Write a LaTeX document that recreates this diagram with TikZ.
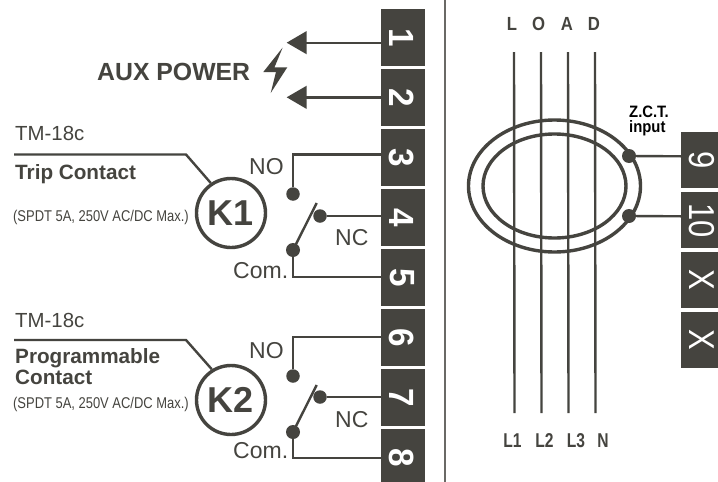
\documentclass[tikz,border=0pt]{standalone}
\usepackage{fontspec}
\setmainfont{Liberation Sans}
\definecolor{ink}{HTML}{45443F}
\tikzset{
 wire/.style={draw=ink,line width=2.4pt},
 ring/.style={draw=ink,line width=3.4pt},
 termnum/.style={text=white,font=\bfseries\fontsize{35}{35}\selectfont,rotate=-90,xscale=.95,inner sep=0pt},
 rnum/.style={text=white,font=\fontsize{36}{36}\selectfont,rotate=-90,xscale=.86,inner sep=0pt},
 dot/.style={circle,fill=ink,inner sep=0pt,minimum size=13.5pt},
 sdot/.style={circle,fill=ink,inner sep=0pt,minimum size=14pt},
 lbl/.style={text=ink,inner sep=0pt},
 relay/.style={circle,draw=ink,line width=3.4pt,minimum size=69pt,inner sep=0pt,font=\bfseries\fontsize{36}{36}\selectfont,text=ink},
 arrowtip/.style={fill=ink,draw=none},
 thinlbl/.style={lbl,font=\fontsize{23}{23}\selectfont,anchor=base west},
 tmlbl/.style={lbl,font=\fontsize{20.4}{20.4}\selectfont,anchor=base west},
 boldlbl/.style={lbl,font=\bfseries\fontsize{20.7}{20.7}\selectfont,anchor=base west},
 spec/.style={lbl,font=\fontsize{15.6}{15.6}\selectfont,anchor=base west,xscale=.83},
 phase/.style={lbl,font=\bfseries\fontsize{20}{20}\selectfont,anchor=base,xscale=.78},
}
\begin{document}
\begin{tikzpicture}[x=1pt,y=-1pt]
\useasboundingbox[fill=white] (0,0) rectangle (718,482);
\draw[draw=ink!80,line width=1.3pt] (445,0) coordinate (sepa) -- (445,482) coordinate (sepb);
% left terminals
\foreach \n/\y/\h in {1/9.3/56.7,2/69.3/56.7,3/129.3/56.7,4/189.3/56.7,5/249.3/56.7,6/309.3/56.7,7/369.3/56.7,8/429.3/52.7}{
  \fill[ink] (381,\y) rectangle (425,\y+\h);
  \coordinate (t\n) at (381,\y+28.5);
  \node[termnum] (n\n) at (402,\y+28.5) {\n};
}
% right terminals
\foreach \n/\y/\t in {a/132.3/9,b/192.3/10,c/252.3/X,d/312.3/X}{
  \fill[ink] (681,\y) rectangle (718,\y+55.7);
  \coordinate (r\n) at (681,\y+24);
  \node[rnum] (rn\n) at (702,\y+28) {\t};
}
% Aux power
\fill[arrowtip] (286.7,42.7) -- (306.7,31) -- (306.7,54.3) -- cycle;
\fill[arrowtip] (286.7,97.3) -- (306.7,85.7) -- (306.7,109) -- cycle;
\coordinate (a1) at (305,42.7); \coordinate (a2) at (305,97.3);
\draw[wire] (t1|-a1) -- (a1);
\draw[wire] (t2|-a2) -- (a2);
\node[lbl,font=\bfseries\fontsize{24.8}{24.8}\selectfont,anchor=base west] (aux) at (97,80) {AUX POWER};
\fill[ink] (282.7,47.5) -- (263.3,72) -- (276,72) -- (270.7,93) -- (287.3,67.3) -- (274.5,67.3) -- cycle;
% K1
\node[tmlbl] (tm1) at (15,140.5) {TM-18c};
\node[relay] (k1) at (231,213) {K1};
\coordinate (l1) at (14,154.5);
\draw[wire] (l1) -- (186,154.5) -- (k1.124);
\node[boldlbl] (tc) at (15,179) {Trip Contact};
\node[spec] (sp1) at (13,221) {(SPDT 5A, 250V AC/DC Max.)};
\node[thinlbl] (no1) at (249,174.5) {NO};
\node[thinlbl] (nc1) at (335,245) {NC};
\node[thinlbl] (com1) at (233,278) {Com.};
\node[dot] (d1a) at (293,194) {};
\node[dot] (d1b) at (320,216) {};
\node[sdot] (d1c) at (293,250) {};
\draw[wire] (d1a) -- (293,154.5) -- (t3|-0,154.5);
\draw[wire] (d1b) -- (t4|-d1b);
\draw[wire] (d1c) -- (293,276.7) -- (t5|-0,276.7);
\draw[wire] (d1c.center) -- (316.7,203);
% K2
\node[tmlbl] (tm2) at (15,327) {TM-18c};
\node[relay] (k2) at (231,400) {K2};
\coordinate (l2) at (14,340);
\draw[wire] (l2) -- (186,340) -- (k2.122);
\node[boldlbl] (pc1) at (15,363.5) {Programmable};
\node[boldlbl] (pc2) at (15,384.5) {Contact};
\node[spec] (sp2) at (13,408.5) {(SPDT 5A, 250V AC/DC Max.)};
\node[thinlbl] (no2) at (249,358) {NO};
\node[thinlbl] (nc2) at (335,427) {NC};
\node[thinlbl] (com2) at (233,458.5) {Com.};
\node[dot] (d2a) at (293,376) {};
\node[dot] (d2b) at (320,397) {};
\node[sdot] (d2c) at (293,432) {};
\draw[wire] (d2a) -- (293,336.7) -- (t6|-0,336.7);
\draw[wire] (d2b) -- (t7|-d2b);
\draw[wire] (d2c) -- (293,458) -- (t8|-0,458);
\draw[wire] (d2c.center) -- (316.7,385);
% load
\foreach \x/\t in {512/L,538.5/O,567/A,594/D}{
  \node[lbl,font=\bfseries\fontsize{19}{19}\selectfont,xscale=.88] (load\t) at (\x,23.5) {\t};
}
\foreach \i/\a/\b in {1/514/514.5,2/541/541.5,3/568/568.5,4/595/595.5}{
  \draw[wire] (\a,52) coordinate (lt\i) -- (\b,413) coordinate (lb\i);
}
\node[phase] (b1) at (512.5,447) {L1};
\node[phase] (b2) at (544.5,447) {L2};
\node[phase] (b3) at (576,447) {L3};
\node[phase] (b4) at (603,447) {N};
\draw[ring] (554.5,186) ellipse [x radius=86,y radius=66];
\draw[ring] (554.5,186) ellipse [x radius=71.5,y radius=52];
\node[sdot] (za) at (629,156) {};
\node[sdot] (zb) at (629,216) {};
\draw[wire] (za) -- (ra);
\draw[wire] (zb) -- (rb);
\node[font=\bfseries\fontsize{16.5}{15.5}\selectfont,anchor=base west,inner sep=0pt,xscale=.9] (zct) at (629,117) {Z.C.T.};
\node[font=\bfseries\fontsize{16.5}{15.5}\selectfont,anchor=base west,inner sep=0pt,xscale=.9] (zct2) at (629,132.5) {input};
\end{tikzpicture}
\end{document}
